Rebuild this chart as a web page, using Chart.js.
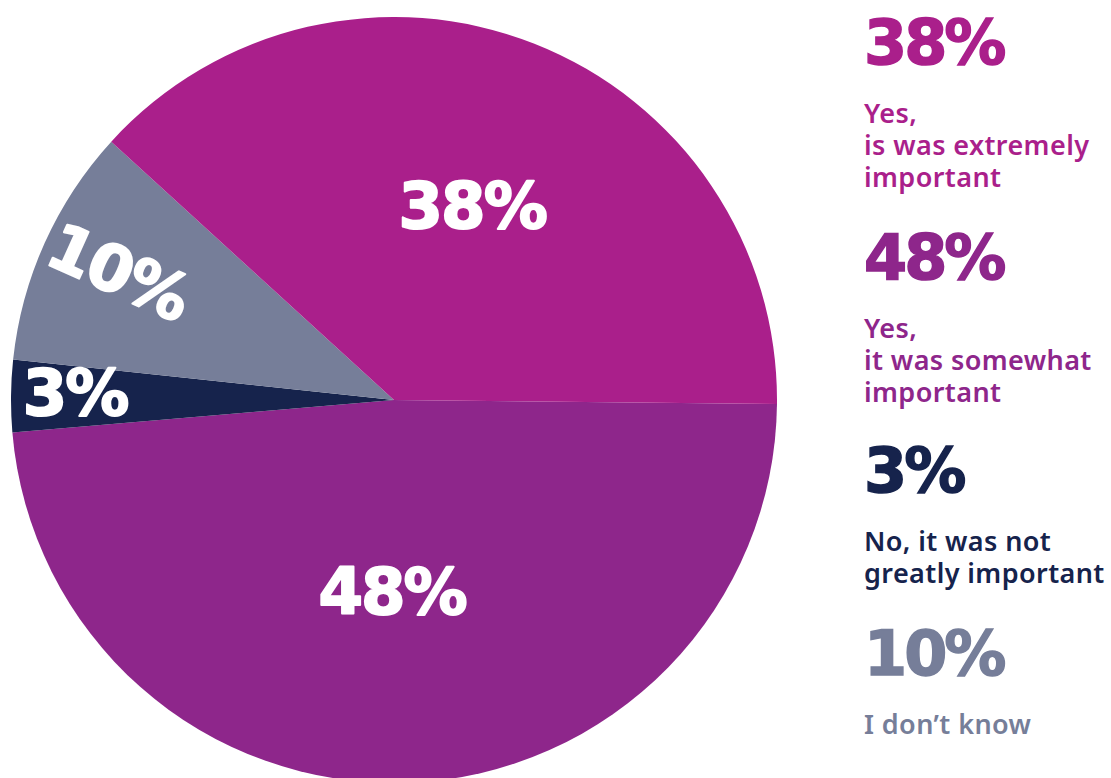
<!DOCTYPE html>
<html>
<head>
<meta charset="utf-8">
<script src="https://cdn.jsdelivr.net/npm/chart.js@4"></script>
<style>
  html, body { margin: 0; padding: 0; background: #fff; overflow: hidden; width: 1111px; height: 778px; }
  #pie { position: absolute; left: 11px; top: 17px; }
  .legend { position: absolute; left: 864px; font-family: "DejaVu Sans", sans-serif; }
  .legend .big { font-weight: 700; font-size: 62px; line-height: 60px; letter-spacing: -3px; -webkit-text-stroke: 1.5px currentColor; }
  .legend .txt { font-family: "Noto Sans", sans-serif; font-weight: 600; font-size: 27px; line-height: 32px; letter-spacing: 0.4px; margin-top: 24px; white-space: nowrap; }
</style>
</head>
<body>
<canvas id="pie" width="766" height="766"></canvas>
<div id="legend"></div>
<script>
const labels = ['Yes, it was somewhat important', 'No, it was not greatly important', "I don’t know", 'Yes, is was extremely important'];
const values = [48, 3, 10, 38];
const colors = ['#8e268b', '#16234c', '#767e99', '#aa1f8b'];

// legend order on the right
const legendOrder = [3, 0, 1, 2];
const legendLines = [
  ['Yes,', 'it was somewhat', 'important'],
  ['No, it was not', 'greatly important'],
  ['I don’t know'],
  ['Yes,', 'is was extremely', 'important']
];
const legendTops = [13, 228, 441, 624];

// where each in-slice label sits: fraction of radius, small angle nudge (deg), turn with slice
const labelRadius = [0.51, 0.83, 0.79, 0.54];
const labelNudge = [2.4, 0, 0, 1];
const labelTurn = [false, false, true, false];

const sliceLabels = {
  id: 'sliceLabels',
  afterDatasetsDraw(chart) {
    const ctx = chart.ctx;
    const meta = chart.getDatasetMeta(0);
    meta.data.forEach((arc, i) => {
      const p = arc.getProps(['x', 'y', 'startAngle', 'endAngle', 'outerRadius'], true);
      const mid = (p.startAngle + p.endAngle) / 2 + labelNudge[i] * Math.PI / 180;
      const r = p.outerRadius * labelRadius[i];
      ctx.save();
      ctx.translate(p.x + Math.cos(mid) * r, p.y + Math.sin(mid) * r);
      if (labelTurn[i]) ctx.rotate(mid - Math.PI);
      ctx.fillStyle = '#fff';
      ctx.strokeStyle = '#fff';
      ctx.lineWidth = 2;
      ctx.lineJoin = 'round';
      ctx.font = 'bold 64px "DejaVu Sans"';
      ctx.letterSpacing = '-2px';
      ctx.textAlign = 'center';
      ctx.textBaseline = 'middle';
      ctx.fillText(values[i] + '%', -1, 2);
      ctx.strokeText(values[i] + '%', -1, 2);
      ctx.restore();
    });
  }
};

new Chart(document.getElementById('pie'), {
  type: 'pie',
  data: {
    labels,
    datasets: [{
      data: values,
      backgroundColor: colors,
      borderWidth: 0
    }]
  },
  options: {
    responsive: false,
    animation: false,
    rotation: 90.6,
    layout: { padding: 0 },
    plugins: {
      legend: { display: false },
      tooltip: { enabled: false }
    }
  },
  plugins: [sliceLabels]
});

const legend = document.getElementById('legend');
legendOrder.forEach((idx, k) => {
  const block = document.createElement('div');
  block.className = 'legend';
  block.style.top = legendTops[k] + 'px';
  block.style.color = colors[idx];
  block.innerHTML = '<div class="big">' + values[idx] + '%</div>' +
    '<div class="txt">' + legendLines[idx].join('<br>') + '</div>';
  legend.appendChild(block);
});
</script>
</body>
</html>
